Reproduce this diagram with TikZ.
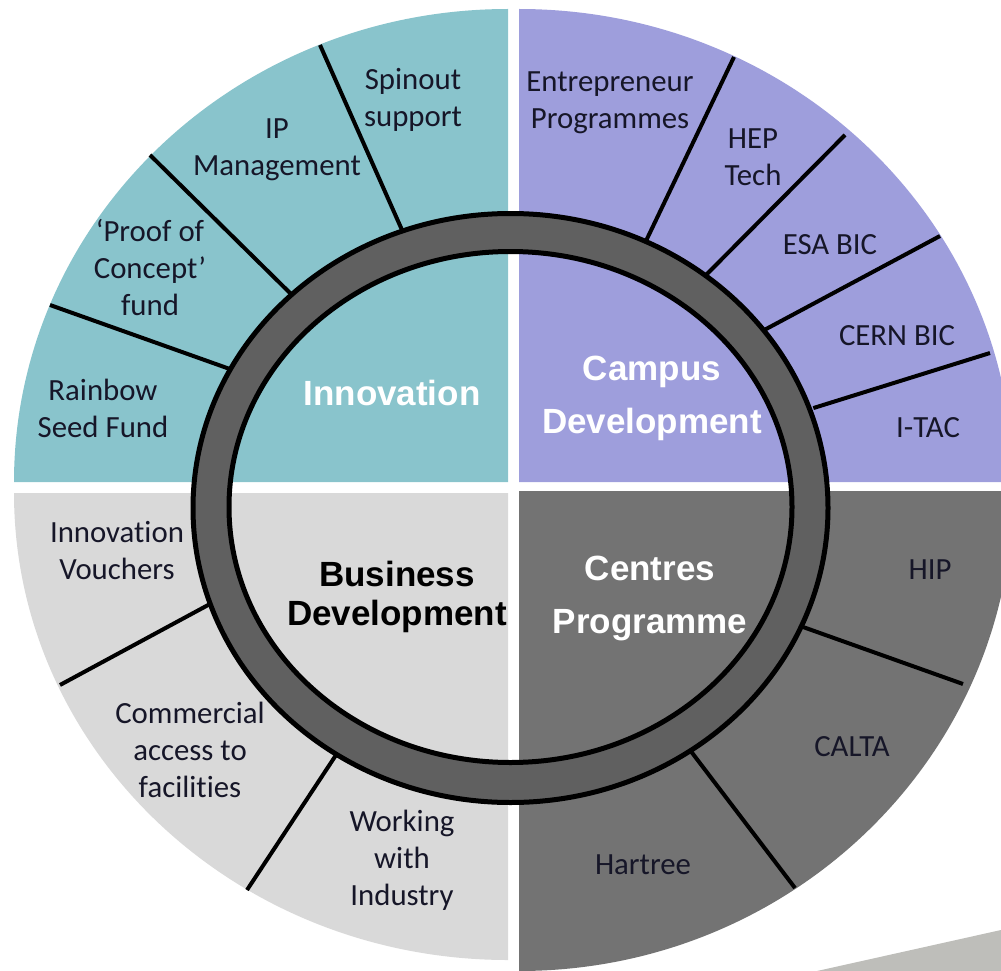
\documentclass[tikz,border=0pt]{standalone}
\usepackage{fontspec}
\setmainfont{Carlito}[Ligatures=CommonOff]
\newfontfamily\headfont{Liberation Sans}
\definecolor{qteal}{RGB}{137,196,204}
\definecolor{qlav}{RGB}{158,158,220}
\definecolor{qlight}{RGB}{217,217,217}
\definecolor{qdark}{RGB}{115,115,115}
\definecolor{ringgray}{RGB}{96,96,96}
\definecolor{txt}{RGB}{22,22,40}
\definecolor{artif}{RGB}{190,190,186}
\begin{document}
\begin{tikzpicture}[x=1pt,y=-1pt,
  lbl/.style={font=\fontsize{30.8}{37}\selectfont, text=txt, align=center, inner sep=0pt},
  headb/.style={font=\headfont\bfseries\fontsize{35}{39}\selectfont, text=black, align=center, inner sep=0pt},
  headw/.style={font=\headfont\bfseries\fontsize{35}{53}\selectfont, text=white, align=center, inner sep=0pt},
  divider/.style={line width=4pt, black, shorten <=-7pt},
]
\useasboundingbox (0,0) rectangle (1001,971);
\clip (0,0) rectangle (1001,971);
% quadrants
\fill[qteal] (508,482) -- (14,482) arc[start angle=180, end angle=270, x radius=494, y radius=473] -- cycle;
\fill[qlav] (519,482) -- (519,9) arc[start angle=270, end angle=360, x radius=494, y radius=473] -- cycle;
\fill[qlight] (508,493) -- (14,493) arc[start angle=180, end angle=90, x radius=494, y radius=467] -- cycle;
\fill[qdark] (519,491) -- (1013,491) arc[start angle=0, end angle=90, x radius=494, y radius=480] -- cycle;
% shadow artefact
\fill[artif] (817,971) -- (1001,930) -- (1001,971) -- cycle;
% divider end points
\coordinate (a1) at (402,230); \coordinate (b1) at (320,45);
\coordinate (a2) at (290,293); \coordinate (b2) at (150,155);
\coordinate (a3) at (227,368); \coordinate (b3) at (50,305);
\coordinate (a4) at (645,243); \coordinate (b4) at (734,57);
\coordinate (a5) at (709,272); \coordinate (b5) at (845,135);
\coordinate (a6) at (768,328); \coordinate (b6) at (940,236);
\coordinate (a7) at (820,406); \coordinate (b7) at (990,353);
\coordinate (a8) at (210,604); \coordinate (b8) at (60,685);
\coordinate (a9) at (338,752); \coordinate (b9) at (247,890);
\coordinate (a10) at (803,627); \coordinate (b10) at (963,684);
\coordinate (a11) at (693,754); \coordinate (b11) at (795,888);
\foreach \i in {1,...,11} { \draw[divider] (a\i) -- (b\i); }
% ring
\draw[line width=5pt, fill=ringgray, even odd rule]
  (510.5,508) ellipse[x radius=317.5, y radius=294.5]
  (510.5,507) ellipse[x radius=281.5, y radius=255.5];
% labels
\node[lbl] (spin) at (413,100) {Spinout\\support};
\node[lbl] (ipm) at (277,150) {IP\\Management};
\node[lbl] (poc) at (150,268) {‘Proof of\\Concept’\\fund};
\node[lbl] (rsf) at (103,408) {Rainbow\\Seed Fund};
\node[lbl] (ent) at (610,103) {Entrepreneur\\Programmes};
\node[lbl] (hep) at (753,157) {HEP\\Tech};
\node[lbl] (esa) at (830,245) {ESA BIC};
\node[lbl] (cern) at (897,336) {CERN BIC};
\node[lbl] (itac) at (928,428) {I-TAC};
\node[lbl] (iv) at (117,551) {Innovation\\Vouchers};
\node[lbl] (caf) at (190,750) {Commercial\\access to\\facilities};
\node[lbl] (wwi) at (402,860) {Working\\with\\Industry};
\node[lbl] (hip) at (930,570) {HIP};
\node[lbl] (calta) at (852,747) {CALTA};
\node[lbl] (hart) at (643,865) {Hartree};
\node[headw] (inno) at (392,393) {Innovation};
\node[headw] (camp) at (652,398) {Campus\\Development};
\node[headb] (bus) at (397,597) {Business\\Development};
\node[headw] (cent) at (650,598) {Centres\\Programme};
\end{tikzpicture}
\end{document}
